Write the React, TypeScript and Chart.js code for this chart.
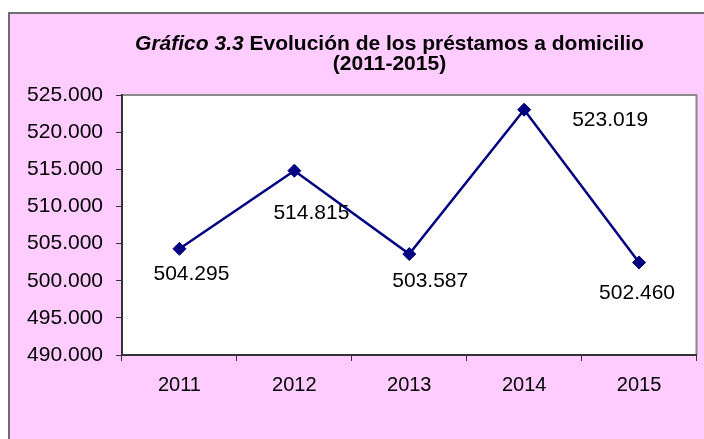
import { useEffect, useRef } from "react";
import { Chart, registerables } from "chart.js";

Chart.register(...registerables);

const years = ["2011", "2012", "2013", "2014", "2015"];
const loans = [504295, 514815, 503587, 523019, 502460];
const yMin = 490000;
const yMax = 525000;
const yStep = 5000;
const titleItalic = "Gráfico 3.3";
const titleMain = " Evolución de los préstamos a domicilio";
const titleSub = "(2011-2015)";

const FONT = "'Liberation Sans', Arial, sans-serif";
const labelOffsets = [
  [12, 31],
  [17, 48],
  [21, 33],
  [86, 16],
  [-2, 37],
];

const fmt = (v: number) =>
  String(Math.round(v)).replace(/\B(?=(\d{3})+(?!\d))/g, ".");

const decorPlugin = {
  id: "decor",
  beforeDraw(chart: any) {
    const { ctx, chartArea } = chart;
    ctx.save();
    ctx.fillStyle = "#FFCCFF";
    ctx.fillRect(9, 13, 800, 500);
    ctx.strokeStyle = "#6e6e6e";
    ctx.lineWidth = 2;
    ctx.strokeRect(9, 13, 800, 500);
    ctx.fillStyle = "#ffffff";
    ctx.fillRect(chartArea.left, chartArea.top, chartArea.right - chartArea.left, chartArea.bottom - chartArea.top);
    ctx.strokeStyle = "#8a8a8a";
    ctx.lineWidth = 2;
    ctx.beginPath();
    ctx.moveTo(chartArea.left, chartArea.top);
    ctx.lineTo(chartArea.right, chartArea.top);
    ctx.lineTo(chartArea.right, chartArea.bottom);
    ctx.stroke();

    // title
    const cx = 389.5;
    const fs = 21;
    ctx.fillStyle = "#000";
    ctx.textBaseline = "alphabetic";
    ctx.font = `italic bold ${fs}px ${FONT}`;
    const w1 = ctx.measureText(titleItalic).width;
    ctx.font = `bold ${fs}px ${FONT}`;
    const w2 = ctx.measureText(titleMain).width;
    const x = cx - (w1 + w2) / 2;
    ctx.textAlign = "left";
    ctx.font = `italic bold ${fs}px ${FONT}`;
    ctx.fillText(titleItalic, x, 50);
    ctx.font = `bold ${fs}px ${FONT}`;
    ctx.fillText(titleMain, x + w1, 50);
    ctx.textAlign = "center";
    ctx.fillText(titleSub, cx, 70);
    ctx.restore();
  },
  afterDatasetsDraw(chart: any) {
    const { ctx } = chart;
    const meta = chart.getDatasetMeta(0);
    ctx.save();
    ctx.fillStyle = "#000";
    ctx.font = `21px ${FONT}`;
    ctx.textAlign = "center";
    ctx.textBaseline = "alphabetic";
    meta.data.forEach((pt: any, i: number) => {
      const [dx, dy] = labelOffsets[i];
      ctx.fillText(fmt(loans[i]), pt.x + dx, pt.y + dy);
    });
    ctx.restore();
  },
};

export default function App() {
  const ref = useRef<HTMLCanvasElement>(null);
  useEffect(() => {
    if (!ref.current) return;
    const chart = new Chart(ref.current, {
      type: "line",
      data: {
        labels: years,
        datasets: [
          {
            data: loans,
            borderColor: "#000080",
            backgroundColor: "#000080",
            borderWidth: 2.5,
            pointStyle: "rectRot",
            pointRadius: 6.5,
            pointBorderWidth: 1,
            pointBackgroundColor: "#000080",
            pointBorderColor: "#000080",
            tension: 0,
          },
        ],
      },
      options: {
        responsive: false,
        animation: false,
        layout: { padding: { left: 0, top: 95, right: 5, bottom: 0 } },
        plugins: {
          legend: { display: false },
          title: { display: false },
          tooltip: { enabled: false },
        },
        scales: {
          x: {
            offset: true,
            grid: { offset: true, drawOnChartArea: false, tickLength: 6, color: "#333" },
            border: { color: "#333", width: 2 },
            ticks: { color: "#000", font: { family: FONT, size: 20 }, padding: 12, maxRotation: 0 },
            afterFit: (s: any) => {
              s.height = 84;
            },
          },
          y: {
            min: yMin,
            max: yMax,
            grid: { drawOnChartArea: false, tickLength: 6, color: "#333" },
            border: { color: "#333", width: 2 },
            ticks: {
              stepSize: yStep,
              color: "#000",
              font: { family: FONT, size: 21 },
              padding: 13,
              callback: (v: any) => fmt(Number(v)),
            },
            afterFit: (s: any) => {
              s.width = 122;
            },
          },
        },
      },
      plugins: [decorPlugin],
    });
    return () => chart.destroy();
  }, []);
  return (
    <div style={{ position: "fixed", left: 0, top: 0, width: 704, height: 439 }}>
      <canvas ref={ref} width={704} height={439} style={{ display: "block" }} />
    </div>
  );
}
